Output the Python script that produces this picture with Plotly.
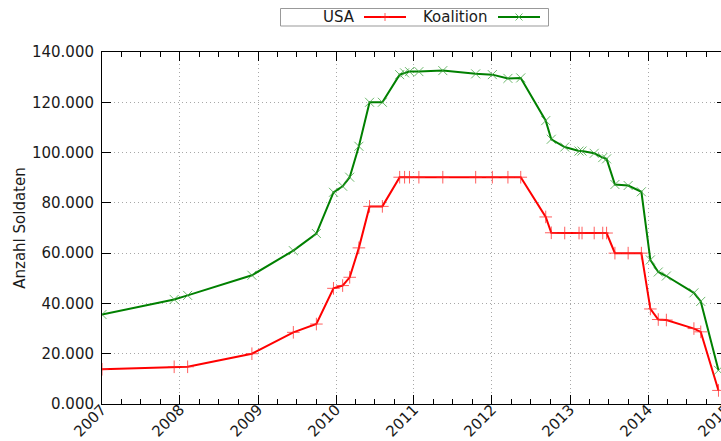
import plotly.graph_objects as go

# ---------------- data ----------------
dates = [
    "2007-01-01", "2007-12-05", "2008-02-06", "2008-12-03", "2009-06-15",
    "2009-10-01", "2009-12-20", "2010-02-01", "2010-03-06", "2010-04-18",
    "2010-06-07", "2010-08-06", "2010-10-26", "2010-11-18", "2010-12-11",
    "2011-01-24", "2011-05-16", "2011-10-17", "2012-01-03", "2012-03-16",
    "2012-05-15", "2012-09-09", "2012-10-05", "2012-12-07", "2013-02-12",
    "2013-02-26", "2013-04-24", "2013-06-03", "2013-06-21", "2013-07-30",
    "2013-09-30", "2013-12-01", "2014-01-12", "2014-02-18", "2014-03-28",
    "2014-08-04", "2014-09-05", "2014-11-27",
]
usa = [
    13800, 14800, 14800, 20000, 28500,
    31800, 46000, 47100, 50400, 62100,
    78600, 78600, 90200, 90200, 90200,
    90200, 90200, 90200, 90200, 90200,
    90200, 74400, 68100, 68000, 68000,
    68000, 68000, 68000, 68000, 60000,
    60000, 60000, 37800, 33600, 33400,
    30000, 28700, 5400,
]
koalition = [
    35600, 41600, 43200, 51200, 61000,
    67800, 84200, 86600, 90200, 102500,
    120000, 120000, 131000, 131700, 132200,
    132200, 132600, 131300, 131000, 129500,
    129700, 112700, 105300, 102200, 100600,
    100600, 99700, 98000, 97500, 87300,
    86900, 84400, 57300, 52500, 50900,
    44200, 40800, 13400,
]
series_names = ["USA", "Koalition"]
y_tick_values = [0, 20000, 40000, 60000, 80000, 100000, 120000, 140000]
y_tick_labels = ["0.000", "20.000", "40.000", "60.000", "80.000",
                 "100.000", "120.000", "140.000"]
y_title = "Anzahl Soldaten"

# ---------------- layout geometry ----------------
W, H = 728, 441
ML, MR, MT, MB = 102, 2, 52, 37
PW, PH = W - ML - MR, H - MT - MB
FONT = "DejaVu Sans"
TXT = "#1a1a1a"


def px(x):
    return (x - ML) / PW


def py(y):
    return 1 - (y - MT) / PH


RED = "#ff0000"
GREEN = "#008000"

fig = go.Figure()
fig.add_trace(go.Scatter(
    x=dates, y=usa, name=series_names[0], mode="lines+markers",
    line=dict(color=RED, width=2),
    marker=dict(symbol="cross-thin", size=9,
                line=dict(color="rgba(255,40,40,0.75)", width=1)),
    showlegend=False, cliponaxis=True,
))
fig.add_trace(go.Scatter(
    x=dates, y=koalition, name=series_names[1], mode="lines+markers",
    line=dict(color=GREEN, width=2),
    marker=dict(symbol="x-thin", size=9,
                line=dict(color="rgba(60,160,60,0.75)", width=1)),
    showlegend=False, cliponaxis=True,
))

axis_common = dict(
    showline=True, linecolor="#000", linewidth=1, mirror="allticks",
    ticks="inside", tickcolor="#000", tickwidth=1,
    showgrid=True, gridcolor="#a8a8a8", gridwidth=1, griddash="1px,3px",
    zeroline=False, automargin=False, ticklabeloverflow="allow",
    tickfont=dict(family=FONT, size=15, color=TXT),
)

fig.update_xaxes(
    type="date", range=["2007-01-01", "2015-01-01 06:00"],
    tick0="2007-01-01", dtick="M12", tickformat="%Y", ticklen=9,
    tickangle=-45, ticklabelstandoff=-10,
    minor=dict(dtick="M3", ticks="inside", ticklen=5, tickcolor="#000",
               showgrid=False),
    **axis_common,
)
fig.update_yaxes(
    range=[0, 140000], tickvals=y_tick_values, ticktext=y_tick_labels,
    ticklen=9, ticklabelstandoff=4,
    title=dict(text=y_title, font=dict(family=FONT, size=15, color=TXT),
               standoff=2),
    **axis_common,
)

# ---------- legend (text first, sample line after, as in the original) ----
shapes = [dict(type="rect", xref="paper", yref="paper",
               x0=px(280.5), x1=px(548.5), y0=py(8.5), y1=py(26),
               line=dict(color="#999999", width=1), fillcolor="white")]
annotations = []
LY = 17
legend_items = [
    (series_names[0], 357, 364, 406, RED, "rgba(255,40,40,0.75)", "plus"),
    (series_names[1], 490, 498, 540, GREEN, "rgba(60,160,60,0.75)", "x"),
]
for name, tx, l0, l1, col, mcol, kind in legend_items:
    annotations.append(dict(
        text=name, xref="paper", yref="paper", x=px(tx), y=py(LY),
        xanchor="right", yanchor="middle", showarrow=False,
        font=dict(family=FONT, size=15, color=TXT)))
    shapes.append(dict(type="line", xref="paper", yref="paper",
                       x0=px(l0), x1=px(l1), y0=py(LY), y1=py(LY),
                       line=dict(color=col, width=2)))
    cx = (l0 + l1) / 2
    if kind == "plus":
        segs = [(cx, LY - 4, cx, LY + 4), (cx - 4, LY, cx + 4, LY)]
    else:
        segs = [(cx - 3.5, LY - 3.5, cx + 3.5, LY + 3.5),
                (cx - 3.5, LY + 3.5, cx + 3.5, LY - 3.5)]
    for a, b, c, d in segs:
        shapes.append(dict(type="line", xref="paper", yref="paper",
                           x0=px(a), x1=px(c), y0=py(b), y1=py(d),
                           line=dict(color=mcol, width=1)))

fig.update_layout(
    width=W, height=H, autosize=False,
    margin=dict(l=ML, r=MR, t=MT, b=MB, pad=0),
    paper_bgcolor="white", plot_bgcolor="white",
    font=dict(family=FONT, size=15, color=TXT),
    shapes=shapes, annotations=annotations, showlegend=False,
)

fig.write_html("out.html",
               config={"displayModeBar": False},
               post_script="document.body.style.margin='0';"
                           "document.body.style.overflow='hidden';")
